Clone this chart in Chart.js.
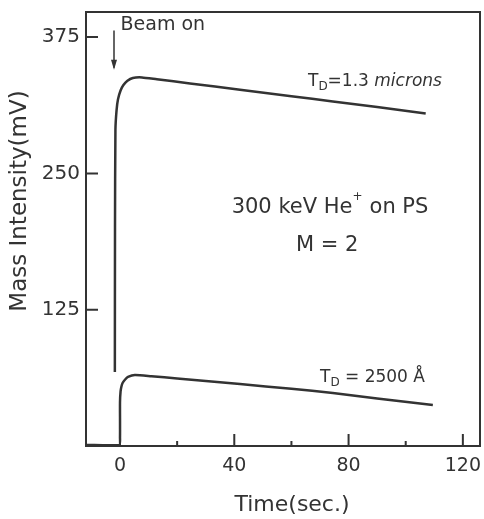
<!DOCTYPE html>
<html>
<head>
<meta charset="utf-8">
<script src="https://cdn.jsdelivr.net/npm/chart.js@4"></script>
<style>
  html, body { margin: 0; padding: 0; background: #fff; }
  #wrap { width: 484px; height: 519px; }
</style>
</head>
<body>
<div id="wrap"><canvas id="chart"></canvas></div>
<script>
// ---- data: time (sec.) / mass intensity (mV) ----
const thickTime = [-1.8, -1.75, -1.6, -1.2, -0.7, 0.2, 1.2, 2.6, 4.5, 7.7, 12.9, 24.5, 42, 60, 74.5, 90, 107];
const thickMass = [67.8, 200, 290, 308, 318, 326, 331, 335, 337.5, 338, 336.3, 332.5, 326.7, 320.8, 316, 310.9, 305];

const thinTime = [-11.9, -0.3, 0, 0, 0.2, 0.5, 0.9, 1.8, 2.8, 5.2, 11, 20, 42, 60, 74.5, 90, 109.5];
const thinMass = [1, 1, 8, 40, 50, 54.5, 57.8, 61, 63.3, 65.1, 64, 62, 56.8, 52.5, 48.6, 43.5, 37.6];

const xTickValues = [0, 20, 40, 60, 80, 100, 120];
const xLabelValues = [0, 40, 80, 120];
const yTickValues = [125, 250, 375];

const xMin = -11.9, xMax = 126;
const yMin = 0, yMax = 398;

const ink = '#333';
const font = '"DejaVu Sans", sans-serif';

function toPoints(xs, ys) {
    return xs.map((x, i) => ({ x: x, y: ys[i] }));
}

// --- text drawn on the plot (positions in data units) ---
function drawParts(ctx, x, y, parts) {
    let cx = x;
    parts.forEach(p => {
        ctx.font = (p.italic ? 'italic ' : '') + p.size + 'px ' + font;
        ctx.fillText(p.t, cx, y + (p.dy || 0));
        cx += ctx.measureText(p.t).width + (p.gap || 0);
    });
}
function partsWidth(ctx, parts) {
    let w = 0;
    parts.forEach(p => {
        ctx.font = (p.italic ? 'italic ' : '') + p.size + 'px ' + font;
        w += ctx.measureText(p.t).width + (p.gap || 0);
    });
    return w;
}

const notes = [
    { x: 0.2, y: 386, align: 'left', parts: [{ t: 'Beam on', size: 19 }] },
    { x: 65.8, y: 334, align: 'left', parts: [
        { t: 'T', size: 17 }, { t: 'D', size: 12, dy: 5 }, { t: '=1.3 ', size: 17 }, { t: 'microns', size: 17, italic: true }] },
    { x: 73.5, y: 219, align: 'center', parts: [
        { t: '300 keV He', size: 21 }, { t: '+', size: 12, dy: -10, gap: 7 }, { t: 'on PS', size: 21 }] },
    { x: 72.5, y: 184, align: 'center', parts: [{ t: 'M = 2', size: 21 }] },
    { x: 70, y: 62.3, align: 'left', parts: [
        { t: 'T', size: 17 }, { t: 'D', size: 12, dy: 5 }, { t: ' = 2500 Å', size: 17 }] }
];

const framePlugin = {
    id: 'frame',
    afterDraw(chart) {
        const ctx = chart.ctx;
        const a = chart.chartArea;
        const sx = chart.scales.x, sy = chart.scales.y;
        ctx.save();
        ctx.strokeStyle = ink;
        ctx.fillStyle = ink;
        ctx.lineWidth = 2;
        ctx.strokeRect(a.left, a.top, a.right - a.left, a.bottom - a.top);

        // inward tick marks
        ctx.beginPath();
        xTickValues.forEach(v => {
            const p = sx.getPixelForValue(v);
            const len = v % 40 === 0 ? 12 : 5;
            ctx.moveTo(p, a.bottom);
            ctx.lineTo(p, a.bottom - len);
        });
        yTickValues.forEach(v => {
            const p = sy.getPixelForValue(v);
            ctx.moveTo(a.left, p);
            ctx.lineTo(a.left + 12, p);
        });
        ctx.stroke();

        // beam-on arrow
        const ax = sx.getPixelForValue(-2.1);
        const ay0 = sy.getPixelForValue(381), ay1 = sy.getPixelForValue(345);
        ctx.lineWidth = 1.5;
        ctx.beginPath();
        ctx.moveTo(ax, ay0);
        ctx.lineTo(ax, ay1 - 2);
        ctx.stroke();
        ctx.beginPath();
        ctx.moveTo(ax, ay1);
        ctx.lineTo(ax - 3, ay1 - 10);
        ctx.lineTo(ax + 3, ay1 - 10);
        ctx.closePath();
        ctx.fill();

        // annotations
        ctx.textBaseline = 'middle';
        ctx.textAlign = 'left';
        notes.forEach(n => {
            let x = sx.getPixelForValue(n.x);
            const y = sy.getPixelForValue(n.y);
            if (n.align === 'center') x -= partsWidth(ctx, n.parts) / 2;
            drawParts(ctx, x, y, n.parts);
        });

        // axis titles
        ctx.font = '23px ' + font;
        ctx.textAlign = 'center';
        ctx.save();
        ctx.translate(20, 201);
        ctx.rotate(-Math.PI / 2);
        ctx.fillText('Mass Intensity(mV)', 0, 0);
        ctx.restore();
        ctx.font = '22px ' + font;
        ctx.fillText('Time(sec.)', 292, 505);
        ctx.restore();
    }
};

const ctxMain = document.getElementById('chart').getContext('2d');
const chart = new Chart(ctxMain, {
    type: 'scatter',
    data: {
        datasets: [
            { label: 'TD = 1.3 microns', data: toPoints(thickTime, thickMass),
              showLine: true, borderColor: ink, borderWidth: 2.5, pointRadius: 0, tension: 0.2, fill: false },
            { label: 'TD = 2500 Å', data: toPoints(thinTime, thinMass),
              showLine: true, borderColor: ink, borderWidth: 2.5, pointRadius: 0, tension: 0.2, fill: false }
        ]
    },
    options: {
        responsive: true,
        maintainAspectRatio: false,
        animation: false,
        layout: { padding: { top: 12, right: 4, left: 0, bottom: 0 } },
        plugins: { legend: { display: false }, tooltip: { enabled: false } },
        scales: {
            x: {
                type: 'linear', min: xMin, max: xMax,
                border: { display: false },
                grid: { display: false, drawTicks: false },
                afterBuildTicks: s => { s.ticks = xTickValues.map(v => ({ value: v })); },
                afterFit: s => { s.height = 73; s.paddingLeft = 0; s.paddingRight = 0; },
                ticks: {
                    padding: 9, color: ink, maxRotation: 0, autoSkip: false,
                    font: { family: font, size: 19 },
                    callback: v => xLabelValues.includes(v) ? String(v) : ''
                }
            },
            y: {
                type: 'linear', min: yMin, max: yMax,
                border: { display: false },
                grid: { display: false, drawTicks: false },
                afterBuildTicks: s => { s.ticks = yTickValues.map(v => ({ value: v })); },
                afterFit: s => { s.width = 86; s.paddingTop = 0; s.paddingBottom = 0; },
                ticks: { padding: 6, color: ink, font: { family: font, size: 20 } }
            }
        }
    },
    plugins: [framePlugin]
});
</script>
</body>
</html>
